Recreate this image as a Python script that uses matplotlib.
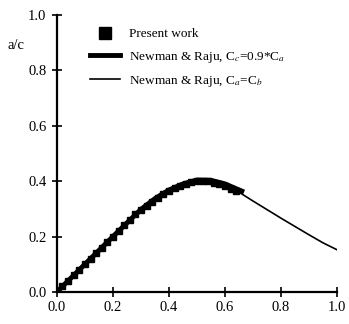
import numpy as np
import matplotlib.pyplot as plt

plt.rcParams['font.family'] = ['Liberation Serif', 'DejaVu Serif']
plt.rcParams['mathtext.fontset'] = 'stix'

# Present work (squares)
x_pw = [0.00, 0.02, 0.04, 0.06, 0.08, 0.10, 0.12, 0.14, 0.16, 0.18, 0.20,
        0.22, 0.24, 0.26, 0.28, 0.30, 0.32, 0.34, 0.36, 0.38, 0.40, 0.42,
        0.44, 0.46, 0.48, 0.50, 0.52, 0.54, 0.56, 0.58, 0.60, 0.62, 0.64]
y_pw = [0.005, 0.02, 0.04, 0.06, 0.08, 0.10, 0.12, 0.14, 0.16, 0.18, 0.20,
        0.22, 0.24, 0.26, 0.28, 0.295, 0.31, 0.325, 0.34, 0.352, 0.363, 0.374,
        0.383, 0.39, 0.396, 0.40, 0.401, 0.399, 0.395, 0.389, 0.381, 0.373, 0.366]

# Newman & Raju, Cc = 0.9*Ca (thick)
x_nr1 = [0.0, 0.1, 0.2, 0.3, 0.35, 0.4, 0.45, 0.5, 0.55, 0.6, 0.66]
y_nr1 = [0.0, 0.1, 0.2, 0.298, 0.337, 0.368, 0.39, 0.404, 0.403, 0.39, 0.364]

# Newman & Raju, Cc = Ca (thin)
x_nr2 = [0.0, 0.1, 0.2, 0.3, 0.35, 0.4, 0.45, 0.5, 0.55, 0.6, 0.65, 0.7,
         0.75, 0.8, 0.85, 0.9, 0.95, 1.0]
y_nr2 = [0.0, 0.1, 0.2, 0.295, 0.334, 0.365, 0.387, 0.40, 0.398, 0.385,
         0.36, 0.328, 0.297, 0.266, 0.236, 0.206, 0.177, 0.152]

fig = plt.figure(figsize=(3.49, 3.24), dpi=100)
ax = fig.add_axes([0.163, 0.099, 0.803, 0.855])

ax.plot(x_pw, y_pw, 's', color='black', markersize=4, label='Present work')
ax.plot(x_nr1, y_nr1, '-', color='black', linewidth=3.5,
        label='Newman & Raju, C$_c$=0.9*C$_a$')
ax.plot(x_nr2, y_nr2, '-', color='black', linewidth=1.2,
        label='Newman & Raju, C$_a$=C$_b$')

ax.set_xlim(0, 1.0)
ax.set_ylim(0, 1.0)
ax.set_xticks(np.arange(0, 1.01, 0.2))
ax.set_yticks(np.arange(0, 1.01, 0.2))
ax.xaxis.set_major_formatter(plt.FormatStrFormatter('%.1f'))
ax.yaxis.set_major_formatter(plt.FormatStrFormatter('%.1f'))
ax.tick_params(direction='inout', length=7, width=1.2, labelsize=10.5, pad=4)
ax.tick_params(axis='x', pad=3)

for s in ['top', 'right']:
    ax.spines[s].set_visible(False)
for s in ['left', 'bottom']:
    ax.spines[s].set_linewidth(1.6)

fig.text(0.022, 0.85, 'a/c', fontsize=10.5)

ax.legend(loc='upper left', bbox_to_anchor=(0.075, 0.995), frameon=False,
          fontsize=9.5, handlelength=2.3, handletextpad=0.7,
          labelspacing=0.7, markerscale=2.3, numpoints=1)

fig.savefig('out.png', dpi=100)
